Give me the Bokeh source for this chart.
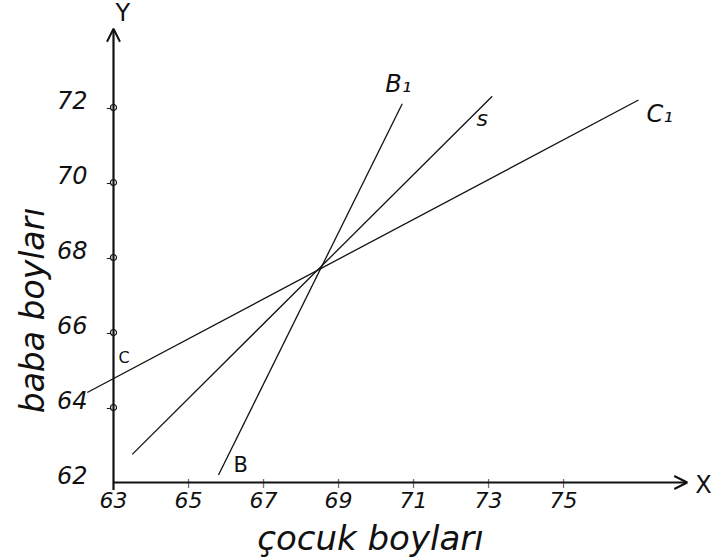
import math
from bokeh.plotting import figure
from bokeh.models import Range1d, Arrow, OpenHead, ColumnDataSource, Label
from bokeh.embed import file_html
from bokeh.resources import INLINE
from bokeh.core.properties import value

# ---- data ----
x_tick_values = [63, 65, 67, 69, 71, 73, 75]
x_tick_labels = ["63", "65", "67", "69", "71", "73", "75"]
y_tick_values = [62, 64, 66, 68, 70, 72]
y_tick_labels = ["62", "64", "66", "68", "70", "72"]

line_start_x = [65.8, 63.5, 62.3]
line_start_y = [62.2, 62.75, 64.4]
line_end_x = [70.7, 73.1, 77.0]
line_end_y = [72.1, 72.3, 72.2]
line_end_labels = ["B₁", "s", "C₁"]

origin_x = 63
origin_y = 62
x_axis_end = 78.3
y_axis_end = 74.1

x_title = "çocuk boyları"
y_title = "baba boyları"

FONT = value("DejaVu Sans")
INK = "#111111"

W, H = 716, 559
PX = 37.5  # pixels per unit
x0 = origin_x - 113 / PX
y1 = origin_y + 482 / PX

p = figure(width=W, height=H, x_range=Range1d(x0, x0 + W / PX), y_range=Range1d(y1 - H / PX, y1),
           x_axis_type=None, y_axis_type=None, toolbar_location=None, output_backend="svg",
           min_border=0)
p.outline_line_color = None
p.grid.visible = False

# axes with arrows
p.add_layout(Arrow(end=OpenHead(size=13, line_width=2, line_color=INK), x_start=origin_x, y_start=origin_y - 0.2,
                   x_end=origin_x, y_end=y_axis_end, line_width=2.2, line_color=INK))
p.add_layout(Arrow(end=OpenHead(size=13, line_width=2, line_color=INK), x_start=origin_x, y_start=origin_y,
                   x_end=x_axis_end, y_end=origin_y, line_width=2.2, line_color=INK))

# tick marks
xt = x_tick_values[1:]
p.text(x=xt, y=[origin_y] * len(xt), text=["|"] * len(xt), text_font=FONT, text_font_size="9px",
       text_align="center", text_baseline="middle", text_color=INK)
yt = y_tick_values[1:]
p.scatter(x=[origin_x] * len(yt), y=yt, size=6, marker="circle", fill_color="white", line_color=INK, line_width=1.2)
p.text(x=[origin_x] * len(yt), y=yt, text=["-"] * len(yt), text_font=FONT, text_font_size="12px",
       text_align="right", text_baseline="middle", text_color=INK, x_offset=-3)

# tick labels
p.text(x=x_tick_values, y=[origin_y] * len(x_tick_values), text=x_tick_labels, text_font=FONT,
       text_font_style="italic", text_font_size="22px", text_align="center", text_baseline="top",
       y_offset=9, text_color=INK)
p.text(x=[origin_x] * len(y_tick_values), y=y_tick_values, text=y_tick_labels, text_font=FONT,
       text_font_style="italic", text_font_size="24px", text_align="right", text_baseline="middle",
       x_offset=-26, y_offset=-8, text_color=INK)

# axis letters
p.text(x=[x_axis_end], y=[origin_y], text=["X"], text_font=FONT, text_font_size="24px",
       text_align="left", text_baseline="middle", x_offset=8, y_offset=2, text_color=INK)
p.text(x=[origin_x], y=[y_axis_end], text=["Y"], text_font=FONT, text_font_size="24px",
       text_align="left", text_baseline="bottom", x_offset=2, y_offset=-2, text_color=INK)

# the three lines
src = ColumnDataSource(dict(x0=line_start_x, y0=line_start_y, x1=line_end_x, y1=line_end_y))
p.segment(x0="x0", y0="y0", x1="x1", y1="y1", source=src, line_color=INK, line_width=1.3)

# end labels
p.text(x=[line_end_x[0]], y=[line_end_y[0]], text=[line_end_labels[0]], text_font=FONT, text_font_size="24px",
       text_font_style="italic", text_align="center", text_baseline="bottom", x_offset=-4, y_offset=-6, text_color=INK)
p.text(x=[line_end_x[1]], y=[line_end_y[1]], text=[line_end_labels[1]], text_font=FONT, text_font_size="22px",
       text_font_style="italic", text_align="center", text_baseline="middle", x_offset=-10, y_offset=22, text_color=INK)
p.text(x=[line_end_x[2]], y=[line_end_y[2]], text=[line_end_labels[2]], text_font=FONT, text_font_size="24px",
       text_font_style="italic", text_align="left", text_baseline="middle", x_offset=8, y_offset=14, text_color=INK)
# start labels
p.text(x=[line_start_x[0]], y=[line_start_y[0]], text=["B"], text_font=FONT, text_font_size="21px",
       text_align="left", text_baseline="middle", x_offset=15, y_offset=-10, text_color=INK)
p.text(x=[origin_x], y=[line_start_y[2]], text=["C"], text_font=FONT, text_font_size="16px",
       text_align="left", text_baseline="middle", x_offset=5, y_offset=-35, text_color=INK)

# axis titles
p.add_layout(Label(x=370, y=22, x_units="screen", y_units="screen", text=x_title, text_font="DejaVu Sans",
                   text_font_style="italic", text_font_size="34px", text_align="center", text_baseline="middle",
                   text_color=INK))
p.add_layout(Label(x=32, y=249, x_units="screen", y_units="screen", text=y_title, text_font="DejaVu Sans",
                   text_font_style="italic", text_font_size="33px", text_align="center", text_baseline="middle",
                   angle=math.pi / 2, text_color=INK))

open("out.html", "w").write(file_html(p, INLINE))
